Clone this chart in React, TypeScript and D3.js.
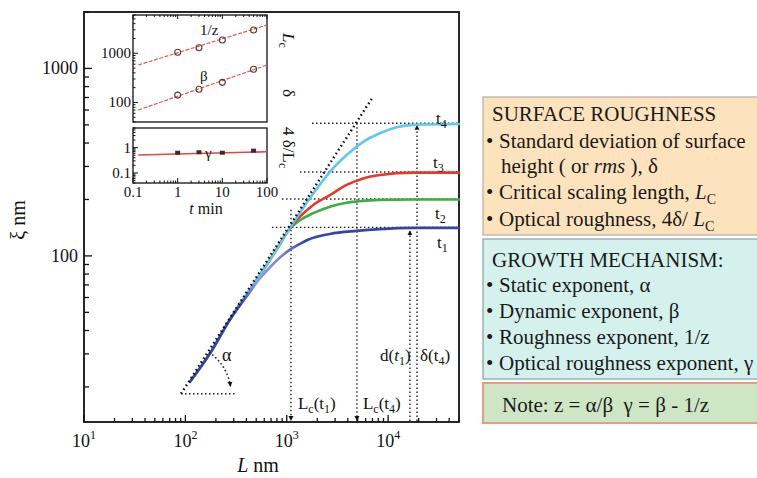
import React, { useEffect, useRef } from "react";
import * as d3 from "d3";

// ---- main plot: roughness xi (nm) vs scan length L (nm)
const t1Pts = [[111, 21.3], [175, 30.2], [275, 45.7], [400, 60.5], [545, 76], [683, 87], [857, 98], [1076, 108], [1350, 116], [1618, 122], [2666, 131], [4890, 136], [8300, 139], [17700, 141], [50000, 141]];
const t2Pts = [[111, 21.3], [175, 30.2], [275, 45.7], [505, 74.4], [800, 109], [1076, 140], [1350, 155], [1825, 169], [2666, 183], [3896, 192], [4890, 195], [8300, 199], [17700, 200], [50000, 200]];
const t3Pts = [[111, 21.3], [175, 30.2], [275, 45.7], [505, 74.4], [800, 109], [1076, 141], [1350, 162], [1825, 187], [2666, 211], [3896, 239], [5675, 259], [8300, 270], [17700, 278], [50000, 278]];
const t4Pts = [[111, 21.3], [175, 30.2], [275, 45.7], [505, 74.4], [800, 109], [1076, 141], [1350, 170], [1825, 215], [2666, 281], [3896, 345], [5675, 406], [8300, 451], [12130, 485], [17700, 500], [50000, 505]];
const seriesNames = ["t2", "t3", "t4", "t1"];
const seriesColors = ["#3dae45", "#e5392c", "#62c6ee", "url(#t1grad)"];

const slopeLine = [[90.6, 18.4], [7080, 705]];
const alphaBase = [[90.6, 18.4], [308, 18.4]];
// horizontal dotted guides: [level, start L]
const levelGuides = [[510, 1775], [280, 1350], [201, 897], [142, 714]];
// vertical guides: [L, top xi, arrow dir]
const vertGuides: [number, number, string][] = [[1100, 176, "down"], [4925, 510, "down"], [16400, 137, "up"], [19250, 500, "up"]];
const xMajors = [10, 100, 1000, 10000];
const yMajors = [100, 1000];

// ---- inset: exponents vs t (min)
const tMin = [1, 3, 10, 50];
const lcVals = [1046, 1298, 1862, 2972];
const deltaVals = [141, 185, 256, 472];
const gammaVals = [0.63, 0.66, 0.63, 0.76];
const lcFit = [[0.131, 577], [100, 3757]];
const deltaFit = [[0.131, 70], [100, 577]];
const gammaFit = [[0.131, 0.51], [100, 0.69]];

const FONT = "'Liberation Serif', 'Times New Roman', serif";

function App() {
  const ref = useRef<SVGSVGElement>(null);

  useEffect(() => {
    const svg = d3.select(ref.current);
    svg.selectAll("*").remove();

    const x = d3.scaleLog().domain([10, 50000]).range([84, 459]);
    const y = d3.scaleLog().domain([13, 2000]).range([422, 12]);

    const defs = svg.append("defs");
    defs.append("marker").attr("id", "arr").attr("viewBox", "0 0 10 10")
      .attr("refX", 10).attr("refY", 5).attr("markerWidth", 5).attr("markerHeight", 6)
      .attr("markerUnits", "userSpaceOnUse").attr("orient", "auto")
      .append("path").attr("d", "M0,0 L10,5 L0,10 z").attr("fill", "#111");
    // t1 looks paler where it leaves the common slope
    const grad = defs.append("linearGradient").attr("id", "t1grad").attr("gradientUnits", "userSpaceOnUse")
      .attr("x1", x(350)).attr("x2", x(1500)).attr("y1", 0).attr("y2", 0);
    grad.append("stop").attr("offset", "0%").attr("stop-color", "#34469f");
    grad.append("stop").attr("offset", "25%").attr("stop-color", "#8c9de0");
    grad.append("stop").attr("offset", "60%").attr("stop-color", "#7b8cd4");
    grad.append("stop").attr("offset", "100%").attr("stop-color", "#34469f");

    const g = svg.append("g").attr("font-family", FONT).attr("fill", "#111");

    // frame
    g.append("rect").attr("x", 84).attr("y", 12).attr("width", 375).attr("height", 410)
      .attr("fill", "none").attr("stroke", "#111").attr("stroke-width", 1.8);

    // ticks
    x.ticks().forEach(v => {
      const major = Math.abs(Math.log10(v) - Math.round(Math.log10(v))) < 1e-9;
      g.append("line").attr("x1", x(v)).attr("x2", x(v)).attr("y1", 422).attr("y2", 422 - (major ? 7 : 4))
        .attr("stroke", "#111").attr("stroke-width", 1.3);
    });
    y.ticks().forEach(v => {
      const major = Math.abs(Math.log10(v) - Math.round(Math.log10(v))) < 1e-9;
      g.append("line").attr("x1", 84).attr("x2", 84 + (major ? 8 : 5)).attr("y1", y(v)).attr("y2", y(v))
        .attr("stroke", "#111").attr("stroke-width", 1.3);
    });
    xMajors.forEach(v => {
      const t = g.append("text").attr("x", x(v)).attr("y", 447).attr("text-anchor", "middle").attr("font-size", 18);
      t.append("tspan").text("10");
      t.append("tspan").attr("font-size", 12).attr("dy", -8).text(String(Math.round(Math.log10(v))));
    });
    yMajors.forEach(v => {
      g.append("text").attr("x", 78).attr("y", y(v) + 6).attr("text-anchor", "end").attr("font-size", 18).text(v);
    });
    g.append("text").attr("transform", "translate(25,220) rotate(-90)").attr("text-anchor", "middle")
      .attr("font-size", 20).text("ξ nm");
    const xl = g.append("text").attr("x", 258).attr("y", 472).attr("text-anchor", "middle").attr("font-size", 20);
    xl.append("tspan").attr("font-style", "italic").text("L");
    xl.append("tspan").text(" nm");

    // guides
    const dotted = (sel: any) => sel.attr("stroke", "#222").attr("stroke-width", 1.4).attr("stroke-dasharray", "1.5,2.5").attr("fill", "none");
    levelGuides.forEach(([lv, l0]) => {
      g.append("line").attr("x1", x(l0)).attr("x2", 459).attr("y1", y(lv)).attr("y2", y(lv)).call(dotted);
    });
    vertGuides.forEach(([lv, top, dir]) => {
      const ln = g.append("line").attr("x1", x(lv)).attr("x2", x(lv)).call(dotted).attr("marker-end", "url(#arr)");
      if (dir === "down") ln.attr("y1", y(top)).attr("y2", 421);
      else ln.attr("y1", 421).attr("y2", y(top));
    });

    // curves
    const line = d3.line<number[]>().x(d => x(d[0])).y(d => y(d[1])).curve(d3.curveMonotoneX);
    [t2Pts, t3Pts, t4Pts, t1Pts].forEach((pts, i) => {
      g.append("path").attr("d", line(pts)).attr("fill", "none").attr("stroke", seriesColors[i])
        .attr("stroke-width", 2.6).attr("stroke-linecap", "round").attr("data-name", seriesNames[i]);
    });

    // slope guide
    const straight = d3.line<number[]>().x(d => x(d[0])).y(d => y(d[1]));
    g.append("path").attr("d", straight(slopeLine)).attr("fill", "none").attr("stroke", "#111")
      .attr("stroke-width", 2.4).attr("stroke-dasharray", "1.6,3");
    g.append("path").attr("d", straight(alphaBase)).call(dotted);
    const vx = x(slopeLine[0][0]), vy = y(slopeLine[0][1]);
    const a0 = Math.atan2(y(slopeLine[1][1]) - vy, x(slopeLine[1][0]) - vx);
    const p = d3.path();
    p.arc(vx, vy, 50, a0 + 0.02, -0.14, false);
    g.append("path").attr("d", p.toString()).call(dotted).attr("stroke-width", 1.6).attr("marker-end", "url(#arr)");
    g.append("text").attr("x", 222).attr("y", 361).attr("font-size", 18).text("α");

    // curve labels
    const tl = (lbl: string, sub: string, xx: number, yy: number) => {
      const t = g.append("text").attr("x", xx).attr("y", yy).attr("font-size", 17);
      t.append("tspan").text(lbl);
      t.append("tspan").attr("font-size", 12).attr("dy", 4).text(sub);
    };
    tl("t", "4", 436, 124);
    tl("t", "3", 433, 168);
    tl("t", "2", 435, 219);
    tl("t", "1", 437, 248);

    const paren = (parts: [string, string][], xx: number, yy: number) => {
      const t = g.append("text").attr("x", xx).attr("y", yy).attr("font-size", 17);
      parts.forEach(([txt, kind]) => {
        const s = t.append("tspan").text(txt);
        if (kind === "sub") s.attr("font-size", 12).attr("dy", 4);
        if (kind === "up") s.attr("dy", -4);
        if (kind === "it") s.attr("font-style", "italic");
      });
    };
    paren([["L", ""], ["c", "sub"], ["(t", "up"], ["1", "sub"], [")", "up"]], x(1100) + 7, 409);
    paren([["L", ""], ["c", "sub"], ["(t", "up"], ["4", "sub"], [")", "up"]], x(4925) + 6, 409);
    paren([["d(", ""], ["t", "it"], ["1", "sub"], [")", "up"]], 380, 361);
    paren([["δ(t", ""], ["4", "sub"], [")", "up"]], 420, 361);

    // ---- inset
    const ix = d3.scaleLog().domain([0.1, 100]).range([133, 267]);
    const iyU = d3.scaleLog().domain([40, 6000]).range([122, 15]);
    const iyL = d3.scaleLog().domain([0.04, 6]).range([183, 128]);
    const ig = g.append("g");
    ig.append("rect").attr("x", 133).attr("y", 15).attr("width", 134).attr("height", 107)
      .attr("fill", "#fff").attr("stroke", "#111").attr("stroke-width", 1.3);
    ig.append("rect").attr("x", 133).attr("y", 128).attr("width", 134).attr("height", 55)
      .attr("fill", "#fff").attr("stroke", "#111").attr("stroke-width", 1.3);
    const isMaj = (v: number) => Math.abs(Math.log10(v) - Math.round(Math.log10(v))) < 1e-9;
    ix.ticks().forEach(v => {
      ig.append("line").attr("x1", ix(v)).attr("x2", ix(v)).attr("y1", 183).attr("y2", 183 - (isMaj(v) ? 5 : 2.5)).attr("stroke", "#111");
      ig.append("line").attr("x1", ix(v)).attr("x2", ix(v)).attr("y1", 15).attr("y2", 15 + (isMaj(v) ? 4 : 2)).attr("stroke", "#111");
    });
    iyU.ticks().forEach(v => {
      ig.append("line").attr("x1", 133).attr("x2", 133 + (isMaj(v) ? 5 : 2.5)).attr("y1", iyU(v)).attr("y2", iyU(v)).attr("stroke", "#111");
    });
    iyL.ticks().forEach(v => {
      ig.append("line").attr("x1", 133).attr("x2", 133 + (isMaj(v) ? 5 : 2.5)).attr("y1", iyL(v)).attr("y2", iyL(v)).attr("stroke", "#111");
    });
    [0.1, 1, 10, 100].forEach(v => {
      ig.append("text").attr("x", ix(v)).attr("y", 197).attr("text-anchor", "middle").attr("font-size", 15).text(v);
    });
    [1000, 100].forEach(v => {
      ig.append("text").attr("x", 131).attr("y", iyU(v) + 5).attr("text-anchor", "end").attr("font-size", 15).text(v);
    });
    [1, 0.1].forEach(v => {
      ig.append("text").attr("x", 131).attr("y", iyL(v) + 5).attr("text-anchor", "end").attr("font-size", 15).text(v);
    });
    const tm = ig.append("text").attr("x", 206).attr("y", 214).attr("text-anchor", "middle").attr("font-size", 16);
    tm.append("tspan").attr("font-style", "italic").text("t");
    tm.append("tspan").text(" min");

    const fitU = d3.line<number[]>().x(d => ix(d[0])).y(d => iyU(d[1]));
    const fitL = d3.line<number[]>().x(d => ix(d[0])).y(d => iyL(d[1]));
    ig.append("path").attr("d", fitU(lcFit)).attr("stroke", "#e8564b").attr("stroke-width", 1.2).attr("stroke-dasharray", "4,1.5").attr("fill", "none");
    ig.append("path").attr("d", fitU(deltaFit)).attr("stroke", "#e8564b").attr("stroke-width", 1.2).attr("stroke-dasharray", "4,1.5").attr("fill", "none");
    ig.append("path").attr("d", fitL(gammaFit)).attr("stroke", "#e8443a").attr("stroke-width", 1.6).attr("fill", "none");
    [lcVals, deltaVals].forEach(vals => {
      vals.forEach((v, i) => {
        ig.append("circle").attr("cx", ix(tMin[i])).attr("cy", iyU(v)).attr("r", 3)
          .attr("fill", "none").attr("stroke", "#5a3a36").attr("stroke-width", 1.1);
      });
    });
    gammaVals.forEach((v, i) => {
      ig.append("rect").attr("x", ix(tMin[i]) - 2.5).attr("y", iyL(v) - 2).attr("width", 5).attr("height", 4).attr("fill", "#3a2a2a");
    });
    ig.append("text").attr("x", 200).attr("y", 35).attr("font-size", 15).text("1/z");
    ig.append("text").attr("x", 200).attr("y", 81).attr("font-size", 15).text("β");
    ig.append("text").attr("x", 205).attr("y", 158).attr("font-size", 15).text("γ");

    const rot = (yy: number, build: (t: any) => void) => {
      const t = g.append("text").attr("transform", `translate(283,${yy}) rotate(90)`).attr("font-size", 17);
      build(t);
    };
    rot(33, t => {
      t.append("tspan").attr("font-style", "italic").text("L");
      t.append("tspan").attr("font-size", 12).attr("dy", 4).text("c");
    });
    rot(89, t => t.append("tspan").text("δ"));
    rot(127, t => {
      t.append("tspan").text("4 δ/L");
      t.append("tspan").attr("font-size", 12).attr("dy", 4).text("c");
    });

    // ---- info boxes
    const bg = svg.append("g").attr("font-family", FONT).attr("fill", "#1a1a1a").attr("font-size", 21);
    bg.append("rect").attr("x", 483).attr("y", 97).attr("width", 290).attr("height", 138).attr("fill", "#fde3bd").attr("stroke", "#b9b2aa").attr("stroke-width", 1.3);
    bg.append("rect").attr("x", 483).attr("y", 239).attr("width", 290).attr("height", 140).attr("fill", "#d4f1ee").attr("stroke", "#8ea5ad").attr("stroke-width", 1.3);
    bg.append("rect").attr("x", 483).attr("y", 383).attr("width", 290).attr("height", 40).attr("fill", "#cfe6c5").attr("stroke", "#e49c8a").attr("stroke-width", 2);

    const bullet = (yy: number) => bg.append("text").attr("x", 486).attr("y", yy).text("•");
    const lc = (t: any) => {
      t.append("tspan").attr("font-style", "italic").text("L");
      t.append("tspan").attr("font-size", 14).attr("dy", 5).text("C");
    };
    bg.append("text").attr("x", 492).attr("y", 121).text("SURFACE ROUGHNESS");
    bullet(148); bg.append("text").attr("x", 499).attr("y", 148).text("Standard deviation of surface");
    const h2 = bg.append("text").attr("x", 501).attr("y", 173);
    h2.append("tspan").text("height ( or ");
    h2.append("tspan").attr("font-style", "italic").text("rms");
    h2.append("tspan").text(" ), δ");
    bullet(199); lc(bg.append("text").attr("x", 499).attr("y", 199).text("Critical scaling length, "));
    bullet(226); lc(bg.append("text").attr("x", 499).attr("y", 226).text("Optical roughness, 4δ/ "));

    bg.append("text").attr("x", 492).attr("y", 267).text("GROWTH MECHANISM:");
    const items = ["Static exponent, α", "Dynamic exponent, β", "Roughness exponent, 1/z", "Optical roughness exponent, γ"];
    items.forEach((s, i) => {
      const yy = 292 + i * 26;
      bullet(yy);
      bg.append("text").attr("x", 499).attr("y", yy).text(s);
    });
    bg.append("text").attr("x", 502).attr("y", 412).attr("xml:space", "preserve").text("Note: z = α/β  γ = β - 1/z");
  }, []);

  return (
    <svg ref={ref} width={757} height={478} style={{ position: "absolute", left: 0, top: 0, background: "#fff" }} />
  );
}

export default App;
